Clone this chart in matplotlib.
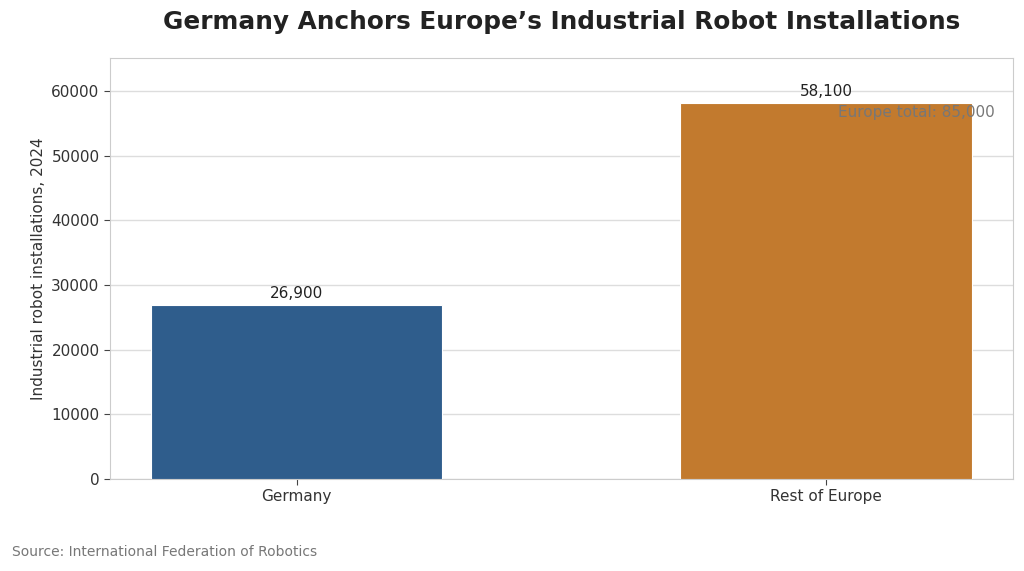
import matplotlib
matplotlib.use("Agg")
import matplotlib.pyplot as plt

plt.rcParams["font.family"] = ["DejaVu Sans"]

regions = ["Germany", "Rest of Europe"]
installations = [26900, 58100]
bar_colors = ["#2f5d8c", "#c27a2e"]
europe_total = 85000

fig = plt.figure(figsize=(10.24, 5.71), dpi=100)
ax = fig.add_axes([0.1074, 0.161, 0.8816, 0.737])

bars = ax.bar(regions, installations, width=0.55, color=bar_colors,
              edgecolor="white", linewidth=0.8, zorder=3)
ax.set_ylim(0, max(installations) * 1.12)
ax.grid(axis="y", color="#dddddd", linewidth=1, zorder=0)
ax.set_axisbelow(True)
for s in ax.spines.values():
    s.set_color("#cccccc")
ax.tick_params(colors="#333333", labelsize=11)
ax.tick_params(axis="both", color="#444444", length=4)

# value labels above bars
for b, v in zip(bars, installations):
    ax.annotate(f"{v:,}", (b.get_x() + b.get_width() / 2, v),
                xytext=(0, 3), textcoords="offset points",
                ha="center", va="bottom", fontsize=11, color="#222222")

ax.text(0.98, 0.872, f"Europe total: {europe_total:,}", transform=ax.transAxes,
        ha="right", va="center", fontsize=11, color="#777777")

ax.set_ylabel("Industrial robot installations, 2024", fontsize=11, color="#333333")
ax.set_title("Germany Anchors Europe\u2019s Industrial Robot Installations",
             fontsize=17.8, fontweight="bold", color="#222222", pad=21)
fig.text(0.012, 0.033, "Source: International Federation of Robotics",
         fontsize=10, color="#777777", va="center")

fig.savefig("out.png", dpi=100)
